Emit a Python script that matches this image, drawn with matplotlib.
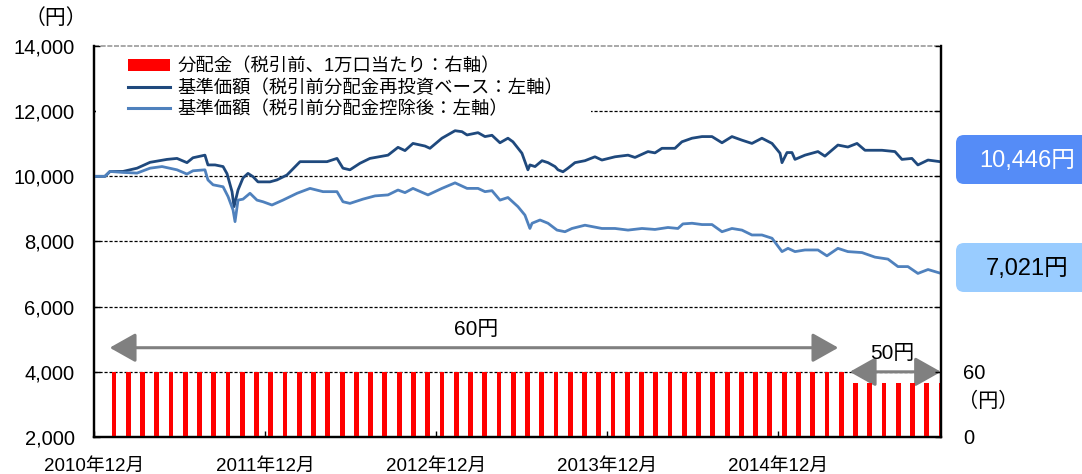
import numpy as np
import matplotlib
matplotlib.use('Agg')
import matplotlib.pyplot as plt
from matplotlib.patches import Patch, Rectangle, FancyBboxPatch
from matplotlib.lines import Line2D
from matplotlib.transforms import IdentityTransform

plt.rcParams['font.family'] = ['Liberation Sans', 'Noto Sans CJK JP']

# x axis = months elapsed since 2010年12月

# 基準価額（税引前分配金再投資ベース）
nav_reinv_m = [0, 0.77, 1.12, 2.03, 3.02, 3.93, 5.12, 5.82, 6.52, 6.94, 7.78, 7.99, 8.49,
               9.05, 9.33, 9.68, 9.82, 10.10, 10.45, 10.80, 11.15, 11.50, 12.34, 12.83,
               13.53, 14.45, 15.64, 16.34, 17.04, 17.46, 17.95, 18.65, 19.35, 20.62,
               21.32, 21.81, 22.37, 23.21, 23.56, 24.40, 25.32, 25.81, 26.16, 26.93,
               27.42, 27.91, 28.47, 29.03, 29.38, 30.01, 30.43, 30.57, 30.93, 31.42,
               31.84, 32.33, 32.54, 32.89, 33.24, 33.73, 34.43, 35.13, 35.62, 36.54,
               37.45, 37.94, 38.85, 39.34, 39.83, 40.74, 41.23, 41.94, 42.64, 43.34,
               44.04, 44.74, 45.44, 46.14, 46.84, 47.55, 48.11, 48.25, 48.60, 48.95,
               49.16, 49.86, 50.77, 51.26, 52.17, 52.87, 53.51, 54.07, 55.26, 56.17,
               56.66, 57.36, 57.78, 58.49, 59.40]
nav_reinv = [10000, 10000, 10150, 10150, 10250, 10430, 10520, 10550, 10420, 10570, 10650, 10350, 10350,
             10300, 10080, 9530, 9070, 9580, 9950, 10090, 9990, 9830, 9830, 9890,
             10040, 10450, 10450, 10450, 10550, 10250, 10200, 10400, 10550, 10650,
             10890, 10790, 11010, 10930, 10860, 11170, 11400, 11370, 11270, 11340,
             11220, 11260, 11030, 11170, 11060, 10710, 10200, 10350, 10300, 10480,
             10420, 10300, 10200, 10140, 10250, 10420, 10480, 10600, 10500, 10600,
             10650, 10580, 10760, 10720, 10860, 10860, 11060, 11170, 11220, 11220,
             11030, 11220, 11110, 11010, 11170, 11010, 10710, 10420, 10730, 10730,
             10520, 10650, 10760, 10620, 10960, 10900, 11010, 10800, 10800, 10760,
             10520, 10550, 10350, 10500, 10446]

# 基準価額（税引前分配金控除後）
nav_m = [0, 0.77, 1.12, 2.03, 3.02, 3.93, 4.77, 5.82, 6.52, 6.94, 7.78, 7.99, 8.35,
         9.05, 9.40, 9.75, 9.89, 10.10, 10.45, 10.94, 11.43, 11.85, 12.48, 13.25,
         14.24, 15.15, 16.06, 17.04, 17.46, 17.95, 18.86, 19.71, 20.62, 21.32,
         21.81, 22.37, 23.42, 24.40, 25.32, 26.16, 26.93, 27.42, 27.91, 28.47,
         29.03, 29.73, 30.22, 30.57, 30.72, 31.28, 31.84, 32.47, 33.03, 33.52,
         34.43, 35.62, 36.54, 37.45, 38.43, 39.34, 40.25, 40.95, 41.30, 41.94,
         42.64, 43.34, 44.04, 44.74, 45.44, 46.14, 46.84, 47.55, 48.25, 48.67,
         49.16, 49.86, 50.77, 51.40, 52.17, 52.87, 53.86, 54.77, 55.68, 56.38,
         57.08, 57.78, 58.49, 59.40]
nav = [10000, 10000, 10150, 10120, 10100, 10250, 10300, 10200, 10070, 10170, 10200, 9890, 9740,
       9680, 9380, 8970, 8610, 9270, 9300, 9480, 9270, 9220, 9120, 9270,
       9480, 9630, 9530, 9530, 9220, 9170, 9300, 9400, 9430, 9580,
       9500, 9630, 9430, 9630, 9800, 9630, 9630, 9530, 9560, 9270,
       9350, 9070, 8810, 8400, 8560, 8660, 8560, 8350, 8300, 8400,
       8500, 8400, 8400, 8350, 8400, 8370, 8430, 8400, 8540, 8560,
       8520, 8520, 8300, 8400, 8350, 8200, 8200, 8100, 7690, 7790,
       7690, 7740, 7740, 7560, 7790, 7690, 7660, 7520, 7460, 7230,
       7230, 7020, 7140, 7021]

# 分配金（税引前、1万口当たり）: monthly, first paid in 2011年1月
dist_month = list(range(1, 60))
dist = [60, 60, 60, 60, 60, 60, 60, 60, 60, 60, 60, 60,
        60, 60, 60, 60, 60, 60, 60, 60, 60, 60, 60, 60,
        60, 60, 60, 60, 60, 60, 60, 60, 60, 60, 60, 60,
        60, 60, 60, 60, 60, 60, 60, 60, 60, 60, 60, 60,
        60, 60, 60, 60, 50, 50, 50, 50, 50, 50, 50]

xtick_pos = [0, 12, 24, 36, 48]
xtick_labels = ['2010年12月', '2011年12月', '2012年12月', '2013年12月', '2014年12月']
yticks = [2000, 4000, 6000, 8000, 10000, 12000, 14000]

dark = '#1F497D'
light = '#4F81BD'

fig = plt.figure(figsize=(10.82, 4.74), dpi=100)
ax = fig.add_axes([94/1082, 1-437/474, 847/1082, 391/474])
ax2 = ax.twinx()

ax.set_xlim(0, 59.4)
ax.set_ylim(2000, 14000)
ax2.set_ylim(0, 360)

# gridlines
for y in yticks[1:-1]:
    ax.axhline(y, color='black', lw=0.9, ls=(0, (2.5, 1.5)), zorder=1)
ax.axhline(14000, color='#999999', lw=1.2, ls=(0, (3, 1)), zorder=1, clip_on=False)

ax.plot(nav_reinv_m, nav_reinv, color=dark, lw=2.0, zorder=3)
ax.plot(nav_m, nav, color=light, lw=2.0, zorder=3)

ax2.bar([m + 0.4 for m in dist_month], dist, width=0.34, color='#FF0000', zorder=2)

# white area behind legend hides the 12,000 gridline
ax2.add_patch(Rectangle((0.002, 0.80), 0.585, 0.193, transform=ax2.transAxes,
                        facecolor='white', edgecolor='none', zorder=1))

for sp in ['left', 'bottom', 'right']:
    ax.spines[sp].set_linewidth(1.6)
    ax2.spines[sp].set_linewidth(1.6)
ax.spines['top'].set_visible(False)
ax2.spines['top'].set_visible(False)

ax.set_xticks(xtick_pos)
ax.set_xticklabels(xtick_labels, fontsize=13.5)
ax.set_yticks(yticks)
ax.set_yticklabels([f'{v:,}' for v in yticks], fontsize=14.5)
ax.tick_params(axis='x', direction='in', length=4, width=1, pad=15)
ax.tick_params(axis='y', direction='in', length=4, width=1, pad=14)
ax2.set_yticks([0, 60, 120, 180, 240, 300, 360])
ax2.set_yticklabels(['0', '60', '', '', '', '', ''], fontsize=14.5)
ax2.tick_params(axis='y', direction='in', length=4, width=1, pad=16)

# arrows
arrow_style = dict(arrowstyle='<|-|>,head_length=0.8,head_width=0.45',
                   color='#808080', lw=2.2, mutation_scale=20, shrinkA=0, shrinkB=0)
ax.annotate('', xy=(1.1, 4740), xytext=(52.2, 4740), arrowprops=arrow_style, zorder=4)
ax.text(26.8, 5300, '60円', ha='center', va='center', fontsize=15, zorder=4)
ax.annotate('', xy=(53.0, 4000), xytext=(59.4, 4000), arrowprops=arrow_style,
            zorder=4, annotation_clip=False)
ax.text(56.0, 4550, '50円', ha='center', va='center', fontsize=15, zorder=4)

handles = [Patch(facecolor='#FF0000', edgecolor='none'),
           Line2D([], [], color=dark, lw=2.2),
           Line2D([], [], color=light, lw=2.2)]
labels = ['分配金（税引前、1万口当たり：右軸）',
          '基準価額（税引前分配金再投資ベース：左軸）',
          '基準価額（税引前分配金控除後：左軸）']
leg = ax2.legend(handles, labels, loc='upper left', bbox_to_anchor=(0.04, 0.97),
                 frameon=False, fontsize=13.2, handlelength=2.3, handletextpad=0.4,
                 handleheight=0.65, labelspacing=0.22, borderpad=0, borderaxespad=0)
leg.set_zorder(5)

fig.text(56/1082, 1-18/474, '（円）', ha='center', va='center', fontsize=15)
fig.text(958/1082, 1-401/474, '（円）', ha='left', va='center', fontsize=14.5)

# latest value boxes
fig.patches.append(FancyBboxPatch((956, 474-184), 150, 49,
                                  boxstyle='round,pad=0,rounding_size=8',
                                  facecolor='#558CF7', edgecolor='none',
                                  transform=IdentityTransform(), figure=fig))
fig.patches.append(FancyBboxPatch((956, 474-292), 150, 49,
                                  boxstyle='round,pad=0,rounding_size=8',
                                  facecolor='#99CCFF', edgecolor='none',
                                  transform=IdentityTransform(), figure=fig))
fig.text(1027/1082, 1-161/474, '10,446円', ha='center', va='center', fontsize=17, color='white')
fig.text(1027/1082, 1-269/474, '7,021円', ha='center', va='center', fontsize=17, color='black')

fig.savefig('out.png', dpi=100)
